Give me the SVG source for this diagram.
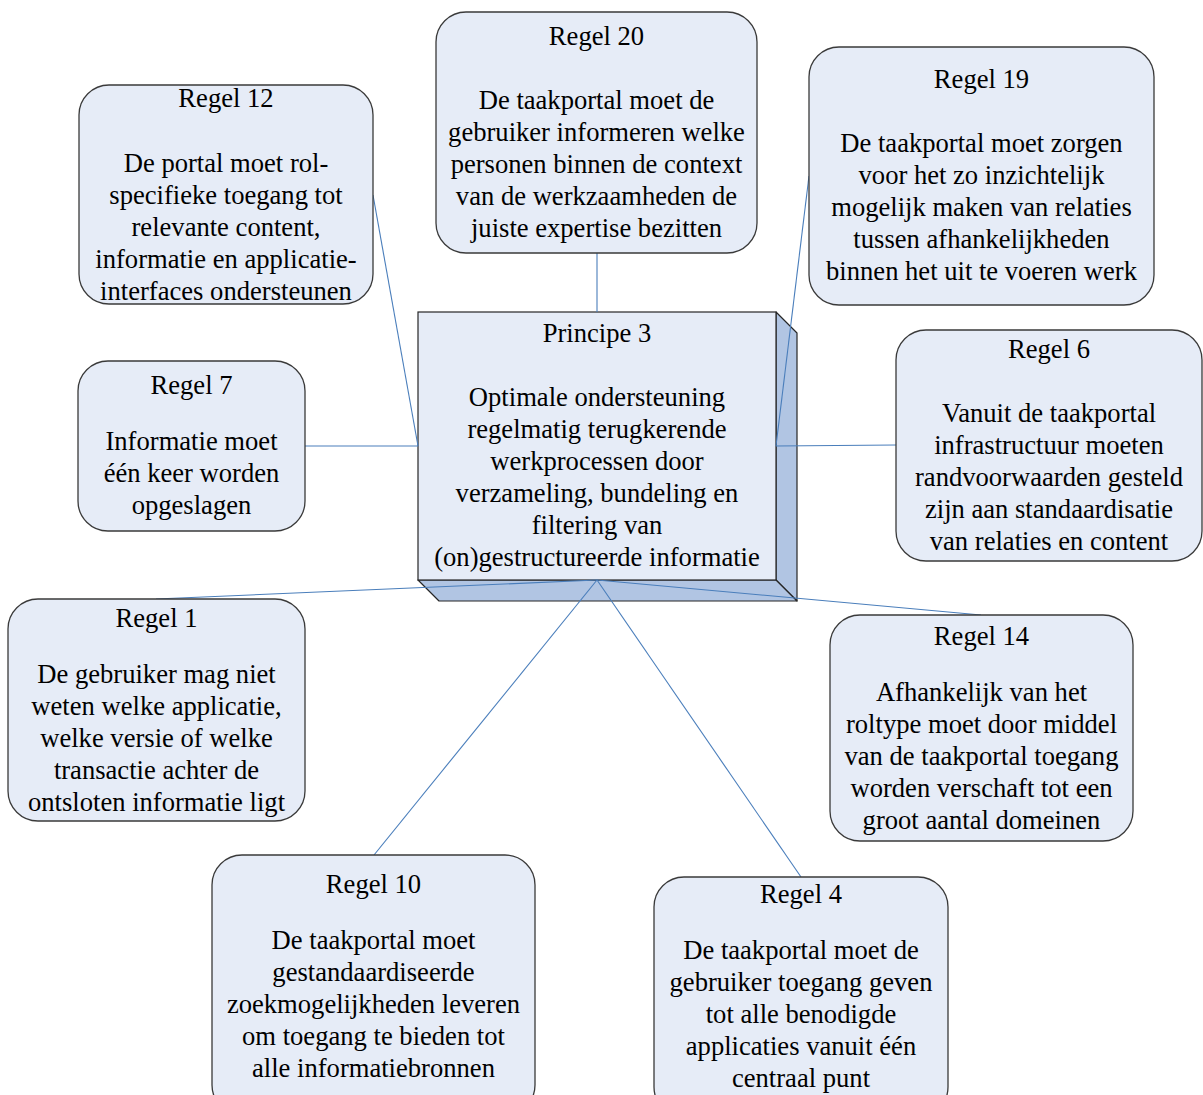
<svg xmlns="http://www.w3.org/2000/svg" width="1203" height="1095" viewBox="0 0 1203 1095">
  <style>
    .node { fill: #e6ecf7; stroke: #3a3a3a; stroke-width: 1.3; }
    .side { fill: #b1c5e3; stroke: #262626; stroke-width: 1.2; stroke-linejoin: round; }
    .front { fill: #e6ecf7; stroke: #262626; stroke-width: 1.2; }
    .conn line { stroke: #4a7ebb; stroke-width: 1.1; }
    text { font-family: "Liberation Serif", "Times New Roman", serif; font-size: 26.6px; fill: #000; text-anchor: middle; }
  </style>
  <rect width="1203" height="1095" fill="#ffffff"/>

  <!-- central principle: box with depth -->
  <g id="principe3">
    <polygon class="side" points="776,312 797,333 797,601 776,580"/>
    <polygon class="side" points="418,580 776,580 797,601 439,601"/>
    <rect class="front" x="418" y="312" width="358" height="268"/>
    <text x="597" y="342">Principe 3</text>
    <text x="597" y="406">Optimale ondersteuning</text>
    <text x="597" y="438">regelmatig terugkerende</text>
    <text x="597" y="470">werkprocessen door</text>
    <text x="597" y="502">verzameling, bundeling en</text>
    <text x="597" y="534">filtering van</text>
    <text x="597" y="566">(on)gestructureerde informatie</text>
  </g>

  <!-- connectors from the principle to each rule -->
  <g id="connectors" class="conn">
    <line x1="597" y1="253" x2="597" y2="312"/>
    <line x1="373" y1="195" x2="418" y2="446"/>
    <line x1="305" y1="446" x2="418" y2="446"/>
    <line x1="809" y1="176" x2="776" y2="446"/>
    <line x1="776" y1="446" x2="896" y2="445"/>
    <line x1="597" y1="580" x2="156" y2="599"/>
    <line x1="597" y1="580" x2="981" y2="615"/>
    <line x1="597" y1="580" x2="374" y2="855"/>
    <line x1="597" y1="580" x2="801" y2="877"/>
  </g>

  <g id="regel12">
    <rect class="node" x="79" y="85" width="294" height="219" rx="30"/>
    <text x="226" y="107">Regel 12</text>
    <text x="226" y="172">De portal moet rol-</text>
    <text x="226" y="204">specifieke toegang tot</text>
    <text x="226" y="236">relevante content,</text>
    <text x="226" y="268">informatie en applicatie-</text>
    <text x="226" y="300">interfaces ondersteunen</text>
  </g>

  <g id="regel20">
    <rect class="node" x="436" y="12" width="321" height="241" rx="30"/>
    <text x="596.5" y="45">Regel 20</text>
    <text x="596.5" y="109">De taakportal moet de</text>
    <text x="596.5" y="141">gebruiker informeren welke</text>
    <text x="596.5" y="173">personen binnen de context</text>
    <text x="596.5" y="205">van de werkzaamheden de</text>
    <text x="596.5" y="237">juiste expertise bezitten</text>
  </g>

  <g id="regel19">
    <rect class="node" x="809" y="47" width="345" height="258" rx="30"/>
    <text x="981.5" y="88">Regel 19</text>
    <text x="981.5" y="152">De taakportal moet zorgen</text>
    <text x="981.5" y="184">voor het zo inzichtelijk</text>
    <text x="981.5" y="216">mogelijk maken van relaties</text>
    <text x="981.5" y="248">tussen afhankelijkheden</text>
    <text x="981.5" y="280">binnen het uit te voeren werk</text>
  </g>

  <g id="regel7">
    <rect class="node" x="78" y="361" width="227" height="170" rx="30"/>
    <text x="191.5" y="394">Regel 7</text>
    <text x="191.5" y="450">Informatie moet</text>
    <text x="191.5" y="482">één keer worden</text>
    <text x="191.5" y="514">opgeslagen</text>
  </g>

  <g id="regel6">
    <rect class="node" x="896" y="330" width="306" height="231" rx="30"/>
    <text x="1049" y="358">Regel 6</text>
    <text x="1049" y="422">Vanuit de taakportal</text>
    <text x="1049" y="454">infrastructuur moeten</text>
    <text x="1049" y="486">randvoorwaarden gesteld</text>
    <text x="1049" y="518">zijn aan standaardisatie</text>
    <text x="1049" y="550">van relaties en content</text>
  </g>

  <g id="regel1">
    <rect class="node" x="8" y="599" width="297" height="222" rx="30"/>
    <text x="156.5" y="627">Regel 1</text>
    <text x="156.5" y="683">De gebruiker mag niet</text>
    <text x="156.5" y="715">weten welke applicatie,</text>
    <text x="156.5" y="747">welke versie of welke</text>
    <text x="156.5" y="779">transactie achter de</text>
    <text x="156.5" y="811">ontsloten informatie ligt</text>
  </g>

  <g id="regel14">
    <rect class="node" x="830" y="615" width="303" height="226" rx="30"/>
    <text x="981.5" y="645">Regel 14</text>
    <text x="981.5" y="701">Afhankelijk van het</text>
    <text x="981.5" y="733">roltype moet door middel</text>
    <text x="981.5" y="765">van de taakportal toegang</text>
    <text x="981.5" y="797">worden verschaft tot een</text>
    <text x="981.5" y="829">groot aantal domeinen</text>
  </g>

  <g id="regel10">
    <rect class="node" x="212" y="855" width="323" height="260" rx="30"/>
    <text x="373.5" y="893">Regel 10</text>
    <text x="373.5" y="949">De taakportal moet</text>
    <text x="373.5" y="981">gestandaardiseerde</text>
    <text x="373.5" y="1013">zoekmogelijkheden leveren</text>
    <text x="373.5" y="1045">om toegang te bieden tot</text>
    <text x="373.5" y="1077">alle informatiebronnen</text>
  </g>

  <g id="regel4">
    <rect class="node" x="654" y="877" width="294" height="240" rx="30"/>
    <text x="801" y="903">Regel 4</text>
    <text x="801" y="959">De taakportal moet de</text>
    <text x="801" y="991">gebruiker toegang geven</text>
    <text x="801" y="1023">tot alle benodigde</text>
    <text x="801" y="1055">applicaties vanuit één</text>
    <text x="801" y="1087">centraal punt</text>
  </g>
</svg>
